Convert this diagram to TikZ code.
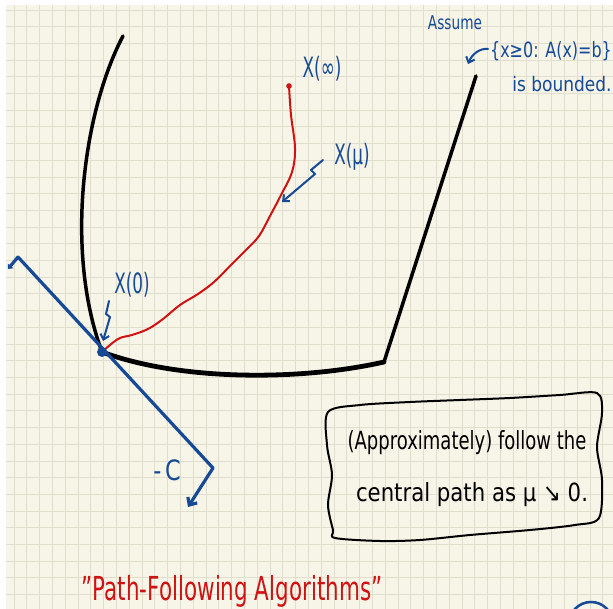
\documentclass[tikz,border=0pt]{standalone}
\usepackage{fontspec}
\usepackage{graphicx}
\setmainfont{DejaVu Sans}
\usetikzlibrary{arrows.meta}
\definecolor{paper}{RGB}{247,244,232}
\definecolor{gridc}{RGB}{226,222,206}
\definecolor{inkblue}{RGB}{22,74,150}
\definecolor{inkred}{RGB}{208,18,18}
\begin{document}
\begin{tikzpicture}[x=1pt,y=-1pt,
  blueink/.style={draw=inkblue,line width=2.2,line cap=round,line join=round},
  bluetext/.style={text=inkblue,inner sep=0},
  blacktext/.style={text=black,inner sep=0},
  barb/.style={-{Straight Barb[length=5pt,width=9pt]}},
  boundary/.style={draw=black,line cap=round,line join=round}]
\useasboundingbox (0,0) rectangle (613,609);
\fill[white] (0,0) rectangle (613,609);
\fill[paper] (6,5) rectangle (613,609);
\begin{scope}
  \clip (6,5) rectangle (613,609);
  \foreach \i in {0,...,47} \draw[gridc,line width=0.8] ({14+12.8*\i},5) -- ({14+12.8*\i},609);
  \foreach \j in {0,...,36} \draw[gridc,line width=0.8] (6,{10+16.7*\j}) -- (613,{10+16.7*\j});
  % partial page-number circle
  \draw[inkblue,line width=2.5] (591,624) ellipse [x radius=22, y radius=22];
\end{scope}

% key points
\coordinate (x0) at (102,352);
\coordinate (xinf) at (289,86);
\coordinate (corner) at (384,362);
\coordinate (topr) at (476,76);
\coordinate (hl) at (18,257);
\coordinate (hr) at (213,468);
\coordinate (ctip) at (188,507);
\coordinate (stubtip) at (8,269);

% feasible region boundary
\draw[boundary,line width=3.5] (123,36) .. controls (84,110) and (64,250) .. (x0);
\draw[boundary,line width=4.8] (x0) .. controls (180,381) and (300,381) .. (corner);
\draw[boundary,line width=3.5] (corner) -- (topr);

% central path
\draw[inkred,line width=2,line cap=round] plot[smooth,tension=0.6] coordinates {(xinf) (291,115) (295,148) (292,172) (281,195) (270,216) (259,236) (246,250) (230,266) (214,282) (198,294) (180,305) (163,319) (148,329) (132,335) (118,339) (x0)};
\fill[inkred] (xinf) circle (2.8);

% objective hyperplane and -c arrow
\draw[blueink,line width=3.2,-{Straight Barb[length=6pt,width=11pt]}] (hl) -- (hr) -- (ctip);
\draw[blueink,line width=3.2,-{Triangle[length=4pt,width=7pt]}] (hl) -- (stubtip);
\fill[inkblue] (x0) circle (5);

% labels
\node[bluetext,font=\fontsize{28}{28}\selectfont] (linf) at (322,69) {\scalebox{.6}[1]{X(∞)}};
\node[bluetext,font=\fontsize{28}{28}\selectfont] (lmu) at (352,157) {\scalebox{.6}[1]{X(μ)}};
\node[bluetext,font=\fontsize{28}{28}\selectfont] (l0) at (132,285) {\scalebox{.6}[1]{X(0)}};
\node[bluetext,font=\fontsize{28}{28}\selectfont] (lc) at (167,470) {\scalebox{.8}[1]{-\,C}};
\node[bluetext,font=\fontsize{19}{19}\selectfont] (lassume) at (455,23) {\scalebox{.72}[1]{Assume}};
\node[bluetext,font=\fontsize{21}{21}\selectfont] (lset) at (551,51) {\scalebox{.76}[1]{\{x≥0: A(x)=b\}}};
\node[bluetext,font=\fontsize{20}{20}\selectfont] (lbounded) at (562,84) {\scalebox{.85}[1]{is bounded.}};

% label arrows
\coordinate (a0s) at (109,301);
\coordinate (a0t) at (103,341);
\draw[blueink,line width=2,barb] (a0s) -- (106,314) -- (110,317) -- (a0t);
\coordinate (ams) at (323,160);
\coordinate (amt) at (282,202);
\draw[blueink,line width=2,barb] (ams) -- (311,170) -- (315,174) -- (amt);
\coordinate (aas) at (488,49);
\coordinate (aat) at (468,64);
\draw[blueink,line width=2,barb] (aas) .. controls (480,48) and (472,54) .. (aat);

% note box
\draw[boundary,line width=2] plot[smooth cycle,tension=0.5] coordinates {(328,412) (360,405) (410,402) (460,400) (510,398) (560,395) (597,393) (602,413) (597,447) (602,480) (599,518) (575,525) (530,530) (470,535) (420,540) (380,541) (335,538) (333,530) (328,505) (332,475) (327,445)};
\node[blacktext,font=\fontsize{25}{25}\selectfont] (box1) at (467,443) {\scalebox{.72}[1]{(Approximately) follow the}};
\node[blacktext,font=\fontsize{25}{25}\selectfont] (box2) at (472,495) {\scalebox{.85}[1]{central path as μ ↘ 0.}};

% title
\node[text=inkred,inner sep=0,anchor=base,font=\fontsize{33}{33}\selectfont] (title) at (232,600) {\scalebox{.65}[1]{"Path-Following Algorithms"}};
\end{tikzpicture}
\end{document}
